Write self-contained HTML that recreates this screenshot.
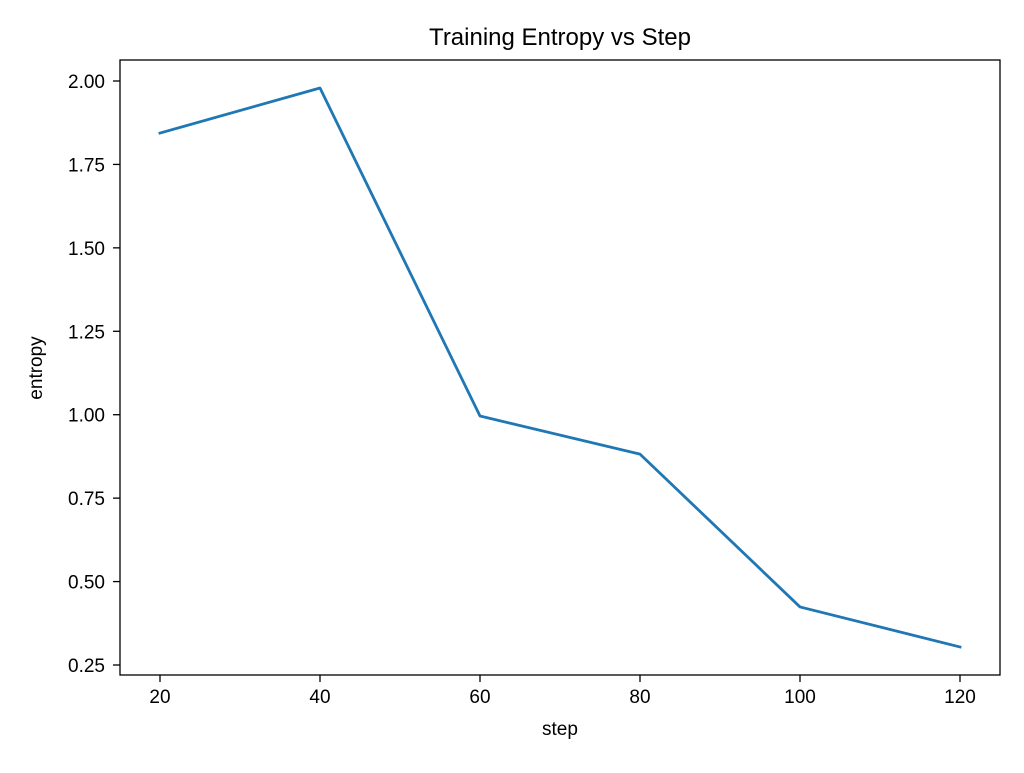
<!DOCTYPE html>
<html><head><meta charset="utf-8"><style>
html,body{margin:0;padding:0;background:#fff;}
svg text{font-family:"Liberation Sans","DejaVu Sans",sans-serif;fill:#000;}
</style></head><body>
<svg id="chart" width="1024" height="768" xmlns="http://www.w3.org/2000/svg">
<rect width="1024" height="768" fill="#fff"/>
<text x="560" y="45" font-size="24" text-anchor="middle">Training Entropy vs Step</text>
<g id="xticks"></g>
<g id="yticks"></g>
<path id="line" fill="none" stroke="#1f77b4" stroke-width="2.8" stroke-linejoin="round" stroke-linecap="square"/>
<rect x="120" y="60" width="880" height="615" fill="none" stroke="#000" stroke-width="1.3"/>
<text x="560" y="735" font-size="19" text-anchor="middle">step</text>
<text x="0" y="0" font-size="19" text-anchor="middle" transform="translate(42,368) rotate(-90)">entropy</text>
</svg>
<script>
const steps = [20, 40, 60, 80, 100, 120];
const entropy = [1.844, 1.979, 0.996, 0.882, 0.424, 0.304];
const xTickValues = [20, 40, 60, 80, 100, 120];
const yTickValues = [0.25, 0.5, 0.75, 1.0, 1.25, 1.5, 1.75, 2.0];

const NS = "http://www.w3.org/2000/svg";
function xs(v){ return 160 + (v - 20) * 8; }
function ys(v){ return 81 + (2.0 - v) * (584 / 1.75); }

const xg = document.getElementById('xticks');
xTickValues.forEach(v => {
  const l = document.createElementNS(NS, 'line');
  l.setAttribute('x1', xs(v)); l.setAttribute('x2', xs(v));
  l.setAttribute('y1', 675); l.setAttribute('y2', 682);
  l.setAttribute('stroke', '#000'); l.setAttribute('stroke-width', '1.3');
  
  
  xg.appendChild(l);
  const t = document.createElementNS(NS, 'text');
  t.setAttribute('x', xs(v)); t.setAttribute('y', 703);
  t.setAttribute('font-size', '19'); t.setAttribute('text-anchor', 'middle');
  t.textContent = String(v);
  
  
  xg.appendChild(t);
});

const yg = document.getElementById('yticks');
yTickValues.forEach(v => {
  const l = document.createElementNS(NS, 'line');
  l.setAttribute('x1', 113); l.setAttribute('x2', 120);
  l.setAttribute('y1', ys(v)); l.setAttribute('y2', ys(v));
  l.setAttribute('stroke', '#000'); l.setAttribute('stroke-width', '1.3');
  
  
  yg.appendChild(l);
  const t = document.createElementNS(NS, 'text');
  t.setAttribute('x', 105); t.setAttribute('y', ys(v) + 7);
  t.setAttribute('font-size', '19'); t.setAttribute('text-anchor', 'end');
  t.textContent = v.toFixed(2);
  
  
  yg.appendChild(t);
});

document.getElementById('line').setAttribute('d',
  steps.map((s, i) => (i ? 'L' : 'M') + xs(s) + ',' + ys(entropy[i])).join(' '));
</script>
</body></html>
